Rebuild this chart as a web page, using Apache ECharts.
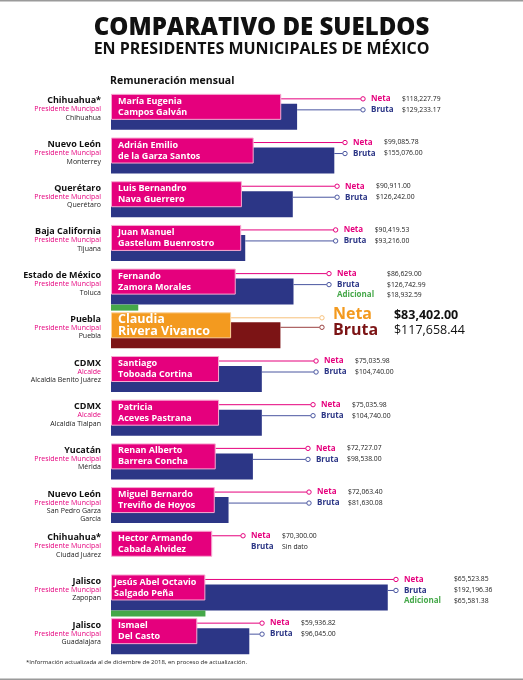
<!DOCTYPE html>
<html lang="es">
<head>
    <meta charset="UTF-8">
    <title>Comparativo de sueldos en presidentes municipales de México</title>
    <script src="https://cdn.jsdelivr.net/npm/echarts@6/dist/echarts.min.js"></script>
    <style>
        html, body { margin: 0; padding: 0; background: #fff; }
        #chart { width: 523px; height: 680px; }
    </style>
</head>
<body>
    <div id="chart"></div>
    <script>
        // Datos (remuneración mensual, pesos)
        var estados = ['Chihuahua*', 'Nuevo León', 'Querétaro', 'Baja California', 'Estado de México', 'Puebla',
            'CDMX', 'CDMX', 'Yucatán', 'Nuevo León', 'Chihuahua*', 'Jalisco', 'Jalisco'];
        var cargos = ['Presidente Muncipal', 'Presidente Muncipal', 'Presidente Muncipal', 'Presidente Muncipal',
            'Presidente Muncipal', 'Presidente Muncipal', 'Alcalde', 'Alcalde', 'Presidente Muncipal',
            'Presidente Muncipal', 'Presidente Muncipal', 'Presidente Muncipal', 'Presidente Muncipal'];
        var municipios = ['Chihuahua', 'Monterrey', 'Querétaro', 'Tijuana', 'Toluca', 'Puebla', 'Alcaldía Benito Juárez',
            'Alcaldía Tlalpan', 'Mérida', 'San Pedro Garza\nGarcía', 'Ciudad Juárez', 'Zapopan', 'Guadalajara'];
        var nombres = ['María Eugenia\nCampos Galván', 'Adrián Emilio\nde la Garza Santos', 'Luis Bernandro\nNava Guerrero',
            'Juan Manuel\nGastelum Buenrostro', 'Fernando\nZamora Morales', 'Claudia\nRivera Vivanco',
            'Santiago\nToboada Cortina', 'Patricia\nAceves Pastrana', 'Renan Alberto\nBarrera Concha',
            'Miguel Bernardo\nTreviño de Hoyos', 'Hector Armando\nCabada Alvidez', 'Jesús Abel Octavio\nSalgado Peña',
            'Ismael\nDel Casto'];
        var neta = [118227.79, 99085.78, 90911.00, 90419.53, 86629.00, 83402.00, 75035.98, 75035.98, 72727.07,
            72063.40, 70300.00, 65523.85, 59936.82];
        var bruta = [129233.17, 155076.00, 126242.00, 93216.00, 126742.99, 117658.44, 104740.00, 104740.00, 98538.00,
            81630.08, null, 192196.36, 96045.00];
        var adicional = [null, null, null, null, 18932.59, null, null, null, null, null, null, 65581.38, null];

        // Diseño: hasta dónde llega la línea guía de cada fila (en pesos, sobre el eje)
        var guiaFin = [175000, 162500, 157000, 156000, 151400, 146500, 142400, 140300, 136800, 137500, 91700, 197900, 104900];

        var rosa = '#e5007d', azul = '#2c3686', verde = '#45a849', naranja = '#f39a1f', vino = '#7c1415';
        var fuente = '"Open Sans", sans-serif';

        function dinero(v) {
            var partes = v.toFixed(2).split('.');
            return '$' + partes[0].replace(/\B(?=(\d{3})+(?!\d))/g, ',') + '.' + partes[1];
        }

        function texto(t, x, y, size, weight, color, align, lh) {
            return {
                type: 'text',
                style: {
                    text: t, x: x, y: y, fill: color, fontSize: size, fontWeight: weight, fontFamily: fuente,
                    textAlign: align || 'left', textVerticalAlign: 'middle', lineHeight: lh || size * 1.2
                }
            };
        }

        function renderItem(params, api) {
            var i = api.value(0);
            var base = api.coord([0, i]);
            var x0 = base[0], top = base[1] - 18;
            var vN = api.value(1), vB = api.value(2), vA = api.value(3);
            var xN = api.coord([vN, i])[0];
            var xG = api.coord([api.value(4), i])[0];
            var hl = estados[i] === 'Puebla';
            var cN = hl ? naranja : rosa, cB = hl ? vino : azul;
            var hijos = [];
            var xB = null;

            if (!isNaN(vB)) {
                xB = api.coord([vB, i])[0];
                hijos.push({ type: 'rect', shape: { x: x0, y: top + 10, width: xB - x0, height: 26 }, style: { fill: cB } });
            }
            if (!isNaN(vA)) {
                var xA = api.coord([vA, i])[0];
                hijos.push({ type: 'rect', shape: { x: x0, y: top + 36, width: xA - x0, height: 6 }, style: { fill: verde } });
            }
            hijos.push({
                type: 'rect', shape: { x: x0 + 0.5, y: top + 0.5, width: xN - x0 - 1, height: 25 },
                style: { fill: cN, stroke: hl ? '#fbd29a' : '#f7a9d1', lineWidth: 1 }
            });

            var yN = top + (hl ? 5.5 : 5), yB = top + (hl ? 15 : 16), yA = top + 26.5;
            var lineaN = hl ? '#f7c07a' : rosa, lineaB = hl ? '#9a4040' : '#4a56a0';

            hijos.push({ type: 'line', shape: { x1: xN, y1: yN, x2: xG - 2.2, y2: yN }, style: { stroke: lineaN, lineWidth: 1 } });
            hijos.push({ type: 'circle', shape: { cx: xG, cy: yN, r: 2.2 }, style: { fill: '#fff', stroke: lineaN, lineWidth: 1 } });
            if (xB !== null) {
                hijos.push({ type: 'line', shape: { x1: xB, y1: yB, x2: xG - 2.2, y2: yB }, style: { stroke: lineaB, lineWidth: 1 } });
                hijos.push({ type: 'circle', shape: { cx: xG, cy: yB, r: 2.2 }, style: { fill: '#fff', stroke: lineaB, lineWidth: 1 } });
            }

            // Etiquetas a la derecha
            var xl = xG + 8;
            if (hl) {
                hijos.push(texto('Neta', xl + 3, top + 2, 16, 700, naranja));
                hijos.push(texto('Bruta', xl + 3, top + 18, 16, 700, vino));
                hijos.push(texto(dinero(vN), xl + 64, top + 3, 12.5, 700, '#111'));
                hijos.push(texto(dinero(vB), xl + 64, top + 18, 12.5, 400, '#111'));
            } else {
                var dx = isNaN(vA) ? 31 : 50;
                hijos.push(texto('Neta', xl, yN, 8, 700, rosa));
                hijos.push(texto('Bruta', xl, yB, 8, 700, azul));
                hijos.push(texto(dinero(vN), xl + dx, yN, 6.8, 400, '#222'));
                hijos.push(texto(isNaN(vB) ? 'Sin dato' : dinero(vB), xl + dx, yB, 6.8, 400, '#222'));
                if (!isNaN(vA)) {
                    hijos.push(texto('Adicional', xl, yA, 8, 700, verde));
                    hijos.push(texto(dinero(vA), xl + dx, yA, 6.8, 400, '#222'));
                }
            }

            // Nombre dentro de la barra neta
            var primera = nombres[i].split('\n')[0];
            hijos.push(texto(nombres[i], x0 + (primera.length >= 18 ? 3 : 7), top + 13, hl ? 12.5 : 9, 700, '#fff', 'left', hl ? 12 : 11));

            // Etiquetas a la izquierda
            var xi = x0 - 10;
            hijos.push(texto(estados[i], xi, top + 7, 9, 700, '#111', 'right'));
            hijos.push(texto(cargos[i], xi, top + 15.5, 7, 400, rosa, 'right'));
            var lineasMun = municipios[i].split('\n');
            lineasMun.forEach(function (l, k) {
                hijos.push(texto(l, xi, top + 24 + k * 8, 7, 400, '#222', 'right'));
            });

            return { type: 'group', children: hijos };
        }

        var filas = neta.map(function (v, i) {
            return [i, v, bruta[i] == null ? '-' : bruta[i], adicional[i] == null ? '-' : adicional[i], guiaFin[i]];
        });

        var chart = echarts.init(document.getElementById('chart'));
        chart.setOption({
            animation: false,
            grid: { left: 111, right: 52, top: 90, bottom: 22 },
            xAxis: { type: 'value', min: 0, max: 250000, show: false },
            yAxis: { type: 'category', data: estados.map(function (e, i) { return i; }), inverse: true, show: false },
            graphic: [
                { type: 'rect', shape: { x: 0, y: 0, width: 523, height: 1.5 }, style: { fill: '#9a9a9a' } },
                { type: 'rect', shape: { x: 0, y: 678.5, width: 523, height: 1.5 }, style: { fill: '#9a9a9a' } },
                {
                    type: 'text', left: 'center', top: 16,
                    style: { text: 'COMPARATIVO DE SUELDOS', fill: '#111', fontSize: 24, fontWeight: 800, fontFamily: fuente }
                },
                {
                    type: 'text', left: 'center', top: 41,
                    style: { text: 'EN PRESIDENTES MUNICIPALES DE MÉXICO', fill: '#111', fontSize: 16, fontWeight: 700, fontFamily: fuente }
                },
                {
                    type: 'text', left: 110, top: 76,
                    style: { text: 'Remuneración mensual', fill: '#111', fontSize: 10.5, fontWeight: 700, fontFamily: fuente }
                },
                {
                    type: 'text', left: 26, top: 659,
                    style: { text: '*Información actualizada al de diciembre de 2018, en proceso de actualización.', fill: '#222', fontSize: 6, fontFamily: fuente }
                }
            ],
            series: [{
                type: 'custom',
                renderItem: renderItem,
                encode: { x: 1, y: 0 },
                data: filas
            }]
        });
    </script>
</body>
</html>
